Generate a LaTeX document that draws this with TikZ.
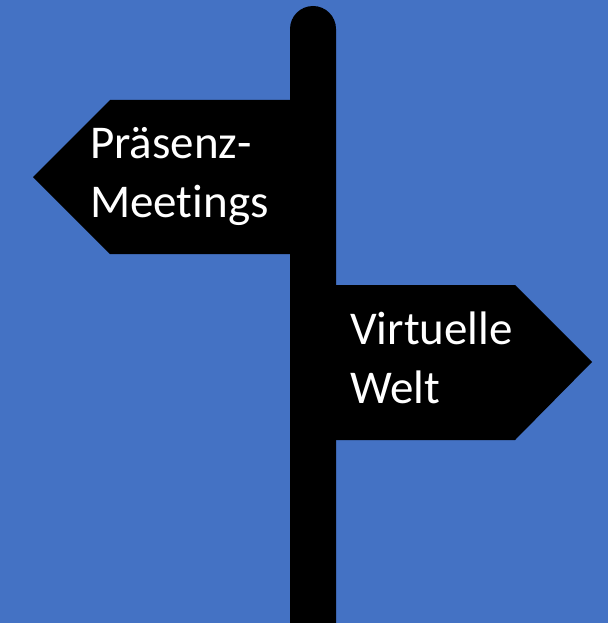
\documentclass[tikz,border=0pt]{standalone}
\usepackage{fontspec}
\setmainfont{Carlito}[Ligatures=CommonOff]
\definecolor{signblue}{HTML}{4472C4}
\tikzset{signtext/.style={text=white, font=\fontsize{47}{59}\selectfont, align=left, inner sep=0pt, anchor=base west}}

\begin{document}
\begin{tikzpicture}[x=1pt,y=-1pt]
  \fill[signblue] (0,0) rectangle (608,623);
  \useasboundingbox (0,0) rectangle (608,623);
  \fill (290,623) -- (290,29) arc[start angle=180, end angle=360, radius=23] -- (336,623) -- cycle;
  \fill (290,100) -- (110,100) -- (33,177) -- (110,254) -- (290,254) -- cycle;
  \fill (336,285) -- (515,285) -- (592,362) -- (515,440) -- (336,440) -- cycle;
  \node[signtext] (meet) at (90,217) {Präsenz-\\Meetings};
  \node[signtext] (welt) at (350,403) {Virtuelle\\Welt};
\end{tikzpicture}
\end{document}
